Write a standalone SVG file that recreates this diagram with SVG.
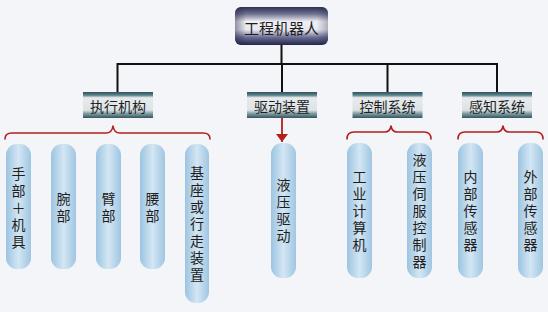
<svg xmlns="http://www.w3.org/2000/svg" width="548" height="312" viewBox="0 0 548 312">
<defs>
<linearGradient id="gRoot" x1="0" y1="0" x2="0" y2="1">
<stop offset="0" stop-color="#2e3050"/>
<stop offset="0.18" stop-color="#6e7090"/>
<stop offset="0.38" stop-color="#eeeef3"/>
<stop offset="0.6" stop-color="#e8e8ef"/>
<stop offset="0.8" stop-color="#6a6c90"/>
<stop offset="1" stop-color="#22244a"/>
</linearGradient>
<linearGradient id="gRootH" x1="0" y1="0" x2="1" y2="0">
<stop offset="0" stop-color="#1e2040" stop-opacity="0.45"/>
<stop offset="0.12" stop-color="#1e2040" stop-opacity="0"/>
<stop offset="0.88" stop-color="#1e2040" stop-opacity="0"/>
<stop offset="1" stop-color="#1e2040" stop-opacity="0.3"/>
</linearGradient>
<linearGradient id="gMid" x1="0" y1="0" x2="0" y2="1">
<stop offset="0" stop-color="#2a5660"/>
<stop offset="0.12" stop-color="#587e86"/>
<stop offset="0.22" stop-color="#e6eaec"/>
<stop offset="0.7" stop-color="#dde3e5"/>
<stop offset="0.82" stop-color="#86a0a6"/>
<stop offset="1" stop-color="#32565e"/>
</linearGradient>
<linearGradient id="gPill" x1="0" y1="0" x2="1" y2="0">
<stop offset="0" stop-color="#9cc4e1"/>
<stop offset="0.5" stop-color="#d3e6f3"/>
<stop offset="1" stop-color="#a0c6e2"/>
</linearGradient>
<marker id="arr" viewBox="0 0 8 12" refX="8" refY="6" markerWidth="8" markerHeight="12" markerUnits="userSpaceOnUse" orient="auto">
<path d="M0,0 L8,6 L0,12 Z" fill="#b3201d"/>
</marker>
<style>
.t{font-family:"Noto Sans CJK SC","Noto Sans",sans-serif;font-size:14px;fill:#1e1e1e;text-anchor:middle;dominant-baseline:central;}
.v{font-family:"Noto Sans CJK SC","Noto Sans",sans-serif;font-size:14px;fill:#1e1e1e;text-anchor:middle;writing-mode:vertical-rl;text-orientation:upright;letter-spacing:3px;}
.pill{fill:url(#gPill);}
.mid{fill:url(#gMid);}
.ln{stroke:#111;stroke-width:2;fill:none;}
.br{stroke:#b3201d;stroke-width:1.6;fill:none;stroke-linecap:round;stroke-linejoin:round;}
</style>
</defs>
<rect width="548" height="312" fill="#f3f5f8"/>

<g id="connectors">
<path class="ln" d="M281.5,45 V64 M117.5,64 H497 M117.5,63 V92 M282,64 V92 M387.5,64 V92 M497,63 V92"/>
<path class="br" d="M5,139 Q5,133 12,133 H106 Q112,133 113,126 Q114,133 120,133 H203 Q210,133 210,139"/>
<path class="br" d="M347,139 Q347,132 354,132 H385 Q390,132 391,126 Q392,132 397,132 H424 Q431,132 431,139"/>
<path class="br" d="M458,139 Q458,132 465,132 H497 Q502,132 503,126 Q504,132 509,132 H536 Q543,132 543,139"/>
<line x1="282" y1="117" x2="282" y2="142" stroke="#b3201d" stroke-width="1.8" marker-end="url(#arr)"/>
</g>

<g id="root">
<rect x="235" y="7" width="93" height="38" rx="6" fill="url(#gRoot)"/>
<rect x="235" y="7" width="93" height="38" rx="6" fill="url(#gRootH)"/>
<text class="t" x="281.5" y="27" style="font-size:15px">工程机器人</text>
</g>

<g id="exec">
<rect class="mid" x="83" y="92" width="70" height="26"/>
<text class="t" x="118" y="105.5">执行机构</text>
</g>
<g id="drive">
<rect class="mid" x="247" y="92" width="70" height="26"/>
<text class="t" x="282" y="105.5">驱动装置</text>
</g>
<g id="control">
<rect class="mid" x="352.5" y="92" width="70" height="26"/>
<text class="t" x="387.5" y="105.5">控制系统</text>
</g>
<g id="sense">
<rect class="mid" x="462" y="92" width="70" height="26"/>
<text class="t" x="497" y="105.5">感知系统</text>
</g>

<g id="hand">
<rect class="pill" x="6" y="144" width="25" height="125" rx="11"/>
<text class="v" x="18.5" y="209.5">手部＋机具</text>
</g>
<g id="wrist">
<rect class="pill" x="51" y="144" width="25" height="125" rx="11"/>
<text class="v" x="63.5" y="209">腕部</text>
</g>
<g id="arm">
<rect class="pill" x="96" y="144" width="25" height="125" rx="11"/>
<text class="v" x="108.5" y="209">臂部</text>
</g>
<g id="waist">
<rect class="pill" x="140" y="144" width="25" height="125" rx="11"/>
<text class="v" x="152.5" y="209">腰部</text>
</g>
<g id="base">
<rect class="pill" x="185" y="144" width="24" height="159" rx="11"/>
<text class="v" x="197" y="225.5">基座或行走装置</text>
</g>

<g id="hydraulic">
<rect class="pill" x="271" y="143" width="25" height="135" rx="11"/>
<text class="v" x="283.5" y="212">液压驱动</text>
</g>
<g id="ipc">
<rect class="pill" x="347" y="143" width="25" height="135" rx="11"/>
<text class="v" x="359.5" y="212.5">工业计算机</text>
</g>
<g id="servo">
<rect class="pill" x="407" y="143" width="25" height="135" rx="11"/>
<text class="v" x="419.5" y="212.5">液压伺服控制器</text>
</g>
<g id="internal">
<rect class="pill" x="458" y="143" width="25" height="135" rx="11"/>
<text class="v" x="470.5" y="212.5">内部传感器</text>
</g>
<g id="external">
<rect class="pill" x="518" y="143" width="25" height="135" rx="11"/>
<text class="v" x="530.5" y="212.5">外部传感器</text>
</g>
</svg>
